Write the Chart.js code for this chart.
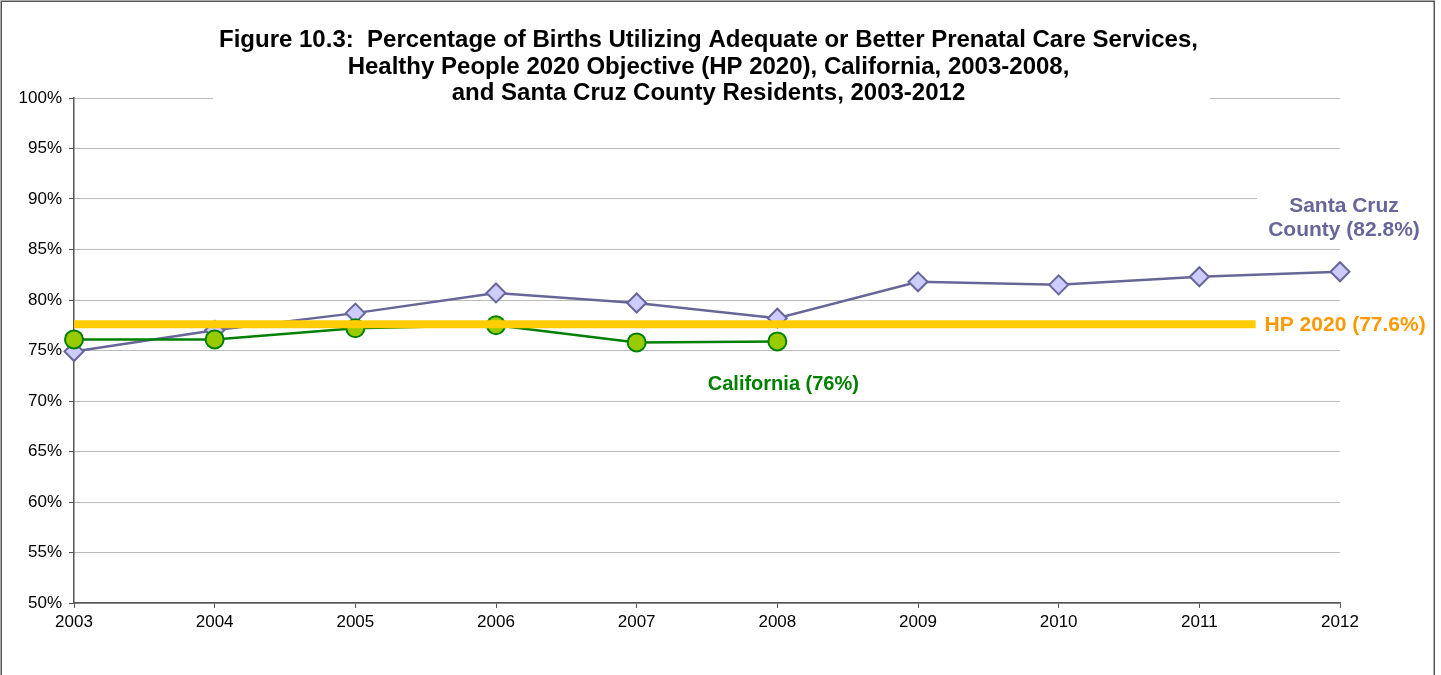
<!DOCTYPE html>
<html>
<head>
<meta charset="utf-8">
<title>Figure 10.3</title>
<script src="https://cdn.jsdelivr.net/npm/chart.js@4.4.1/dist/chart.umd.min.js"></script>
<style>
  html, body { margin: 0; padding: 0; background: #fff; overflow: hidden; }
  #contenedor { position: relative; width: 1441px; height: 675px; }
</style>
</head>
<body>
<div id="contenedor">
  <canvas id="grafico" width="1441" height="675"></canvas>
</div>
<script>
// Datos del grafico
var anios = [2003, 2004, 2005, 2006, 2007, 2008, 2009, 2010, 2011, 2012];
var santaCruz = [74.9, 77.0, 78.7, 80.7, 79.7, 78.2, 81.8, 81.5, 82.3, 82.8];
var california = [76.1, 76.1, 77.2, 77.5, 75.8, 75.9];
var hp2020 = 77.6;
var hpDesde = 2003;
var hpHasta = 2011.4;
var ticksY = [50, 55, 60, 65, 70, 75, 80, 85, 90, 95, 100];

var tituloLineas = [
  'Figure 10.3:  Percentage of Births Utilizing Adequate or Better Prenatal Care Services,',
  'Healthy People 2020 Objective (HP 2020), California, 2003-2008,',
  'and Santa Cruz County Residents, 2003-2012'
];
var etiquetaSC = ['Santa Cruz', 'County (82.8%)'];
var etiquetaCA = 'California (76%)';
var etiquetaHP = 'HP 2020 (77.6%)';

var fuente = '"Liberation Sans", Arial, sans-serif';

function puntos(xs, ys) {
  var r = [];
  for (var i = 0; i < ys.length; i++) {
    r.push({ x: xs[i], y: ys[i] });
  }
  return r;
}

// Titulo, etiquetas de las series y marco exterior
var decoraciones = {
  id: 'decoraciones',
  beforeDraw: function(chart) {
    var ctx = chart.ctx;
    ctx.save();
    ctx.fillStyle = '#fff';
    ctx.fillRect(0, 0, chart.width, chart.height);
    ctx.restore();
  },
  afterDraw: function(chart) {
    var ctx = chart.ctx;
    var x = chart.scales.x;
    var y = chart.scales.y;
    var area = chart.chartArea;
    ctx.save();

    // titulo con fondo blanco
    ctx.fillStyle = '#fff';
    ctx.fillRect(213, 20, 997, 86);
    ctx.fillStyle = '#000';
    ctx.font = 'bold 24px ' + fuente;
    ctx.textAlign = 'center';
    ctx.textBaseline = 'alphabetic';
    for (var i = 0; i < tituloLineas.length; i++) {
      ctx.fillText(tituloLineas[i], 708.5, 47 + i * 26.7);
    }

    // Santa Cruz
    var ySC = y.getPixelForValue(santaCruz[santaCruz.length - 1]);
    ctx.fillStyle = '#fff';
    ctx.fillRect(area.right - 83, ySC - 86, 174, 58);
    ctx.fillStyle = '#666699';
    ctx.font = 'bold 21px ' + fuente;
    ctx.fillText(etiquetaSC[0], area.right + 4, ySC - 60);
    ctx.fillText(etiquetaSC[1], area.right + 4, ySC - 36);

    // HP 2020
    ctx.fillStyle = '#FF9900';
    ctx.textAlign = 'left';
    ctx.fillText(etiquetaHP, x.getPixelForValue(hpHasta) + 9, y.getPixelForValue(hp2020) + 7);

    // California
    ctx.fillStyle = '#008000';
    ctx.textAlign = 'center';
    ctx.font = 'bold 20px ' + fuente;
    var ult = california.length - 1;
    ctx.fillText(etiquetaCA, x.getPixelForValue(anios[ult]) + 6, y.getPixelForValue(california[ult]) + 48.5);

    // marco
    ctx.strokeStyle = '#555';
    ctx.lineWidth = 1.5;
    ctx.strokeRect(1.25, 1.25, 1433, 720);
    ctx.restore();
  }
};

var datos = {
  datasets: [
    {
      label: 'HP 2020',
      data: [{ x: hpDesde, y: hp2020 }, { x: hpHasta, y: hp2020 }],
      borderColor: '#FFCC00',
      borderWidth: 8,
      borderCapStyle: 'butt',
      pointRadius: 0,
      clip: false,
      order: 0
    },
    {
      label: 'California',
      data: puntos(anios, california),
      borderColor: '#008000',
      borderWidth: 2.5,
      pointStyle: 'circle',
      pointRadius: 9,
      pointBackgroundColor: '#99CC00',
      pointBorderColor: '#008000',
      pointBorderWidth: 2,
      clip: false,
      order: 1
    },
    {
      label: 'Santa Cruz County',
      data: puntos(anios, santaCruz),
      borderColor: '#666699',
      borderWidth: 2.5,
      pointStyle: 'rectRot',
      pointRadius: 9.5,
      pointBackgroundColor: '#CCCCFF',
      pointBorderColor: '#666699',
      pointBorderWidth: 2,
      clip: false,
      order: 2
    }
  ]
};

var config = {
  type: 'line',
  data: datos,
  options: {
    responsive: false,
    animation: false,
    layout: { padding: { left: 0, top: 98, right: 101, bottom: 30 } },
    plugins: {
      legend: { display: false },
      title: { display: false },
      tooltip: { enabled: false }
    },
    scales: {
      x: {
        type: 'linear',
        min: anios[0],
        max: anios[anios.length - 1],
        afterBuildTicks: function(scale) {
          scale.ticks = anios.map(function(a) { return { value: a }; });
        },
        afterFit: function(scale) { scale.height = 42; },
        ticks: {
          autoSkip: false,
          maxRotation: 0,
          padding: 4,
          color: '#000',
          font: { family: fuente, size: 17 },
          callback: function(v) { return String(v); }
        },
        grid: {
          drawOnChartArea: false,
          drawTicks: true,
          tickLength: 5,
          tickColor: '#555'
        },
        border: { color: '#555', width: 1.5 }
      },
      y: {
        min: 50,
        max: 100,
        afterBuildTicks: function(scale) {
          scale.ticks = ticksY.map(function(v) { return { value: v }; });
        },
        afterFit: function(scale) { scale.width = 74; },
        ticks: {
          padding: 7,
          color: '#000',
          font: { family: fuente, size: 17 },
          callback: function(v) { return v + '%'; }
        },
        grid: {
          color: '#777',
          lineWidth: 1,
          tickLength: 5,
          tickColor: '#555',
          tickBorderDash: []
        },
        border: { color: '#555', width: 1.5, dash: [1, 1] }
      }
    }
  },
  plugins: [decoraciones]
};

// Crear el grafico
var myChart = new Chart(document.getElementById('grafico'), config);
</script>
</body>
</html>
